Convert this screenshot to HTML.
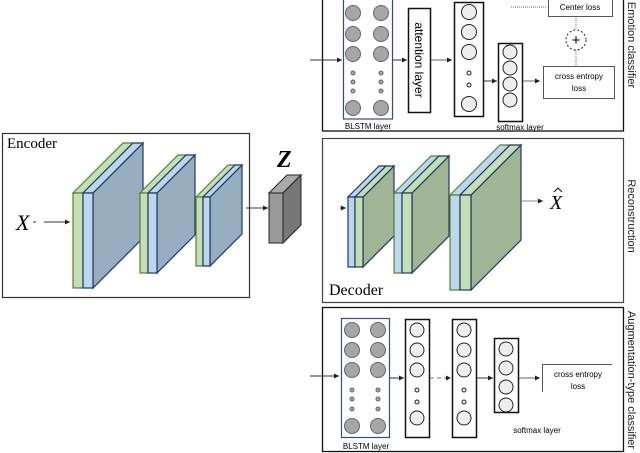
<!DOCTYPE html>
<html><head><meta charset="utf-8"><style>body{margin:0;background:#fff}svg{display:block}</style></head><body>
<svg width="640" height="453" viewBox="0 0 640 453" xmlns="http://www.w3.org/2000/svg" font-family="'Liberation Sans',sans-serif">
<defs><marker id="a" markerWidth="6" markerHeight="6" refX="5" refY="3" orient="auto"><path d="M0,0.5L5,3L0,5.5z" fill="#222"/></marker></defs>
<rect x="2.5" y="133.5" width="247" height="164" fill="none" stroke="#333" stroke-width="1.2"/>
<rect x="322.5" y="-2" width="301" height="133" fill="none" stroke="#111" stroke-width="1.3"/>
<rect x="322.5" y="138.5" width="301" height="164" fill="none" stroke="#444" stroke-width="1.2"/>
<rect x="322.5" y="307.5" width="301" height="144" fill="none" stroke="#111" stroke-width="1.3"/>
<g font-size="11" fill="#222">
<text transform="translate(628,45) rotate(90)" text-anchor="middle">Emotion classifier</text>
<text transform="translate(628,216) rotate(90)" text-anchor="middle">Reconstruction</text>
<text transform="translate(628,380) rotate(90)" text-anchor="middle">Augmentation-type classifier</text>
</g>
<text x="7" y="148" font-family="'Liberation Serif',serif" font-size="15">Encoder</text>
<text x="16" y="230" font-family="'Liberation Serif',serif" font-style="italic" font-size="22">X</text>
<line x1="33" y1="222" x2="70" y2="222" stroke="#333" stroke-dasharray="3 8 30" marker-end="url(#a)"/>
<g stroke-width="1.2">
<polygon points="93,193 143,143 143,238 93,288" fill="#97adc0" stroke="#1f3864"/>
<polygon points="73,193 83,193 133,143 123,143" fill="#c5dfb4" stroke="#548235"/>
<polygon points="83,193 93,193 143,143 133,143" fill="#bdd7ee" stroke="#1f3864"/>
<rect x="73" y="193" width="10" height="95" fill="#c5dfb4" stroke="#548235"/>
<rect x="83" y="193" width="10" height="95" fill="#bdd7ee" stroke="#1f3864"/>
<polygon points="157,193 195,155 195,235 157,273" fill="#97adc0" stroke="#1f3864"/>
<polygon points="140,193 148,193 186,155 178,155" fill="#c5dfb4" stroke="#548235"/>
<polygon points="148,193 157,193 195,155 186,155" fill="#bdd7ee" stroke="#1f3864"/>
<rect x="140" y="193" width="8" height="80" fill="#c5dfb4" stroke="#548235"/>
<rect x="148" y="193" width="9" height="80" fill="#bdd7ee" stroke="#1f3864"/>
<polygon points="210,197 242,165 242,234 210,266" fill="#97adc0" stroke="#1f3864"/>
<polygon points="196,197 203,197 235,165 228,165" fill="#c5dfb4" stroke="#548235"/>
<polygon points="203,197 210,197 242,165 235,165" fill="#bdd7ee" stroke="#1f3864"/>
<rect x="196" y="197" width="7" height="69" fill="#c5dfb4" stroke="#548235"/>
<rect x="203" y="197" width="7" height="69" fill="#bdd7ee" stroke="#1f3864"/>
</g>
<line x1="246" y1="208" x2="268" y2="208" stroke="#333" marker-end="url(#a)"/>
<text x="277" y="167" font-family="'Liberation Serif',serif" font-style="italic" font-weight="bold" font-size="24">Z</text>
<polygon points="269,193 287,175 301,175 283,193" fill="#aaa" stroke="#222"/>
<polygon points="283,193 301,175 301,225 283,243" fill="#777" stroke="#222"/>
<rect x="269" y="193" width="14" height="50" fill="#999" stroke="#222"/>
<g stroke-width="1.2">
<polygon points="363,197 394,166 394,236 363,267" fill="#a0b593" stroke="#1f3864"/>
<polygon points="348,197 355,197 386,166 379,166" fill="#bdd7ee" stroke="#1f3864"/>
<polygon points="355,197 363,197 394,166 386,166" fill="#c5dfb4" stroke="#1f3864"/>
<rect x="348" y="197" width="7" height="70" fill="#bdd7ee" stroke="#1f3864"/>
<rect x="355" y="197" width="8" height="70" fill="#c5dfb4" stroke="#1f3864"/>
<polygon points="412,193 449,156 449,236 412,273" fill="#a0b593" stroke="#1f3864"/>
<polygon points="394,193 402,193 439,156 431,156" fill="#bdd7ee" stroke="#548235"/>
<polygon points="402,193 412,193 449,156 439,156" fill="#c5dfb4" stroke="#1f3864"/>
<rect x="394" y="193" width="8" height="80" fill="#bdd7ee" stroke="#548235"/>
<rect x="402" y="193" width="10" height="80" fill="#c5dfb4" stroke="#1f3864"/>
<polygon points="471,195 521,145 521,240 471,290" fill="#a0b593" stroke="#1f3864"/>
<polygon points="450,195 460,195 510,145 500,145" fill="#bdd7ee" stroke="#548235"/>
<polygon points="460,195 471,195 521,145 510,145" fill="#c5dfb4" stroke="#1f3864"/>
<rect x="450" y="195" width="10" height="95" fill="#bdd7ee" stroke="#548235"/>
<rect x="460" y="195" width="11" height="95" fill="#c5dfb4" stroke="#1f3864"/>
</g>
<line x1="340" y1="208" x2="346" y2="208" stroke="#333" marker-end="url(#a)"/>
<line x1="521" y1="201" x2="543" y2="201" stroke="#888" marker-end="url(#a)"/>
<text x="550" y="209" font-family="'Liberation Serif',serif" font-style="italic" font-size="20">X</text>
<path d="M554,192L558,188L562,192" fill="none" stroke="#111"/>
<text x="329" y="295" font-family="'Liberation Serif',serif" font-size="16">Decoder</text>
<line x1="310" y1="60" x2="342" y2="60" stroke="#333" marker-end="url(#a)"/>
<rect x="343.5" y="-1" width="49" height="120" fill="none" stroke="#2f4f7f" stroke-width="1.2"/>
<g fill="#a6a6a6" stroke="#666">
<circle cx="353" cy="13" r="7.5"/><circle cx="353" cy="34" r="7.5"/><circle cx="353" cy="54" r="7.5"/><circle cx="353" cy="108" r="7.5"/>
<circle cx="381" cy="13" r="7.5"/><circle cx="381" cy="34" r="7.5"/><circle cx="381" cy="54" r="7.5"/><circle cx="381" cy="108" r="7.5"/>
<circle cx="353" cy="73" r="2"/><circle cx="353" cy="82" r="2"/><circle cx="353" cy="91" r="2"/>
<circle cx="381" cy="73" r="2"/><circle cx="381" cy="82" r="2"/><circle cx="381" cy="91" r="2"/>
</g>
<text x="368" y="129" font-size="8" text-anchor="middle">BLSTM layer</text>
<line x1="393" y1="60" x2="407" y2="60" stroke="#333" marker-end="url(#a)"/>
<rect x="408.5" y="8.5" width="22" height="104" fill="#fff" stroke="#111" stroke-width="1.5"/>
<text transform="translate(415,60) rotate(90)" font-size="12" text-anchor="middle">attention layer</text>
<line x1="431" y1="60" x2="452" y2="60" stroke="#666" marker-end="url(#a)"/>
<rect x="454.5" y="2.5" width="29" height="114" fill="none" stroke="#111" stroke-width="1.5"/>
<g fill="#eee" stroke="#222">
<circle cx="469" cy="12" r="7.5"/><circle cx="469" cy="32" r="7.5"/><circle cx="469" cy="52" r="7.5"/><circle cx="469" cy="104" r="7.5"/>
<circle cx="469" cy="73" r="2"/><circle cx="469" cy="85" r="2"/>
</g>
<line x1="484" y1="81" x2="497" y2="81" stroke="#333" marker-end="url(#a)"/>
<rect x="498.5" y="43.5" width="24" height="78" fill="none" stroke="#111" stroke-width="1.5"/>
<g fill="#eee" stroke="#222">
<circle cx="510" cy="52" r="7"/><circle cx="510" cy="68" r="7"/><circle cx="510" cy="84" r="7"/><circle cx="510" cy="100" r="7"/>
</g>
<text x="520" y="130" font-size="8" text-anchor="middle">softmax layer</text>
<line x1="523" y1="81" x2="540" y2="81" stroke="#666" marker-end="url(#a)"/>
<rect x="543.5" y="66.5" width="71" height="32" fill="none" stroke="#555"/>
<text x="579" y="79" font-size="8" text-anchor="middle">cross entropy</text>
<text x="579" y="91" font-size="8" text-anchor="middle">loss</text>
<path d="M548.5,-1V16.5H612.5V-1" fill="none" stroke="#555"/>
<text x="580" y="10" font-size="8" text-anchor="middle">Center loss</text>
<line x1="511" y1="7" x2="547" y2="7" stroke="#777" stroke-dasharray="1 1"/>
<circle cx="576" cy="40" r="10" fill="none" stroke="#222" stroke-dasharray="2 2"/>
<text x="576" y="45" font-size="15" text-anchor="middle">+</text>
<line x1="576" y1="18" x2="576" y2="30" stroke="#777" stroke-dasharray="1 1"/>
<line x1="576" y1="50" x2="576" y2="66" stroke="#777" stroke-dasharray="1 1"/>
<line x1="310" y1="376" x2="339" y2="376" stroke="#333" marker-end="url(#a)"/>
<rect x="341.5" y="318.5" width="48" height="119" fill="none" stroke="#2f4f7f" stroke-width="1.2"/>
<g fill="#a6a6a6" stroke="#666">
<circle cx="352" cy="330" r="7.5"/><circle cx="352" cy="350" r="7.5"/><circle cx="352" cy="370" r="7.5"/><circle cx="352" cy="426" r="7.5"/>
<circle cx="378" cy="330" r="7.5"/><circle cx="378" cy="350" r="7.5"/><circle cx="378" cy="370" r="7.5"/><circle cx="378" cy="426" r="7.5"/>
<circle cx="352" cy="390" r="2"/><circle cx="352" cy="399" r="2"/><circle cx="352" cy="409" r="2"/>
<circle cx="378" cy="390" r="2"/><circle cx="378" cy="399" r="2"/><circle cx="378" cy="409" r="2"/>
</g>
<text x="366" y="449" font-size="8" text-anchor="middle">BLSTM layer</text>
<line x1="390" y1="378" x2="404" y2="378" stroke="#333" marker-end="url(#a)"/>
<rect x="405.5" y="319.5" width="24" height="118" fill="none" stroke="#111" stroke-width="1.5"/>
<rect x="452.5" y="319.5" width="24" height="118" fill="none" stroke="#111" stroke-width="1.5"/>
<g fill="#eee" stroke="#222">
<circle cx="417" cy="330" r="7"/><circle cx="417" cy="350" r="7"/><circle cx="417" cy="370" r="7"/><circle cx="417" cy="418" r="7"/>
<circle cx="417" cy="390" r="2"/><circle cx="417" cy="402" r="2"/>
<circle cx="464" cy="330" r="7"/><circle cx="464" cy="350" r="7"/><circle cx="464" cy="370" r="7"/><circle cx="464" cy="418" r="7"/>
<circle cx="464" cy="390" r="2"/><circle cx="464" cy="402" r="2"/>
</g>
<line x1="430" y1="378" x2="451" y2="378" stroke="#777" stroke-dasharray="4 3" marker-end="url(#a)"/>
<line x1="477" y1="378" x2="493" y2="378" stroke="#333" marker-end="url(#a)"/>
<rect x="494.5" y="338.5" width="24" height="74" fill="none" stroke="#111" stroke-width="1.5"/>
<g fill="#eee" stroke="#222">
<circle cx="506" cy="349" r="7"/><circle cx="506" cy="368" r="7"/><circle cx="506" cy="387" r="7"/><circle cx="506" cy="405" r="7"/>
</g>
<text x="537" y="433" font-size="8" text-anchor="middle">softmax layer</text>
<line x1="519" y1="378" x2="540" y2="378" stroke="#666" marker-end="url(#a)"/>
<path d="M542.5,392V364.5H612" fill="none" stroke="#555"/>
<text x="578" y="377" font-size="8" text-anchor="middle">cross entropy</text>
<text x="578" y="389" font-size="8" text-anchor="middle">loss</text>
</svg>
</body></html>
